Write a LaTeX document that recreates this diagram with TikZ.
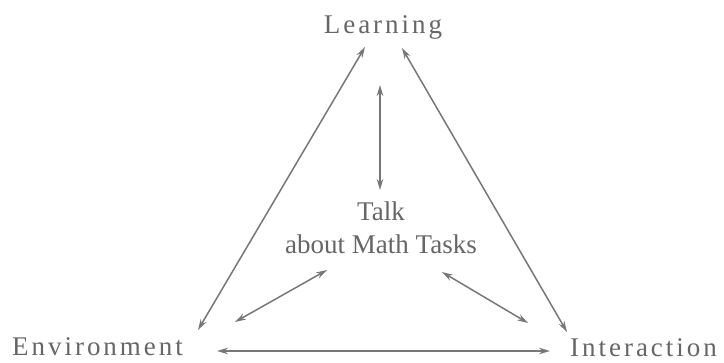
\documentclass[tikz,border=0pt]{standalone}
\usepackage{fontspec}
\setmainfont{Liberation Serif}
\newfontfamily\spacedfont[LetterSpace=11]{Liberation Serif}
\usetikzlibrary{arrows.meta}
\definecolor{triInk}{HTML}{666666}
\definecolor{triLine}{HTML}{777777}
\tikzset{
  tri/label/.style={font=\spacedfont\fontsize{27}{30}\selectfont, text=triInk,
    inner sep=0pt},
  tri/center/.style={font=\fontsize{27}{33}\selectfont, text=triInk,
    align=center, inner sep=0pt},
  tri/arrow/.style={{Stealth[length=11pt,width=6.5pt]}-{Stealth[length=11pt,width=6.5pt]},
    draw=triLine, line width=1.5pt},
}

\begin{document}
\begin{tikzpicture}[x=1pt,y=-1pt,
    corner/.style={tri/label},
    talkbox/.style={tri/center},
    arrow/.style={tri/arrow},
]
\useasboundingbox (0,0) rectangle (724,362);

% The three corners and the talk in the middle.
\node[corner, anchor=base] (learn) at (383,33) {Learning};
\node[corner, anchor=base west] (env) at (12,355) {Environment};
\node[corner, anchor=base west] (inter) at (570,356) {Interaction};
\node[talkbox] (talk) at (381,228) {Talk\\about Math Tasks};

% Sides of the triangle.
\draw[arrow] ([shift={(186,-25)}]env.base west) -- ([shift={(-18,14)}]learn.base);
\draw[arrow] ([shift={(19,15)}]learn.base) -- ([shift={(-3,-24)}]inter.base west);
\draw[arrow] ([shift={(205,-4)}]env.base west) -- ([shift={(-20,-5)}]inter.base west);

% Spokes to the middle.
\draw[arrow] ([shift={(-3,52)}]learn.base) -- ([shift={(-1,-38)}]talk.center);
\draw[arrow] ([shift={(-54,42)}]talk.center) -- ([shift={(223,-33)}]env.base west);
\draw[arrow] ([shift={(61,44)}]talk.center) -- ([shift={(-42,-33)}]inter.base west);
\end{tikzpicture}
\end{document}
